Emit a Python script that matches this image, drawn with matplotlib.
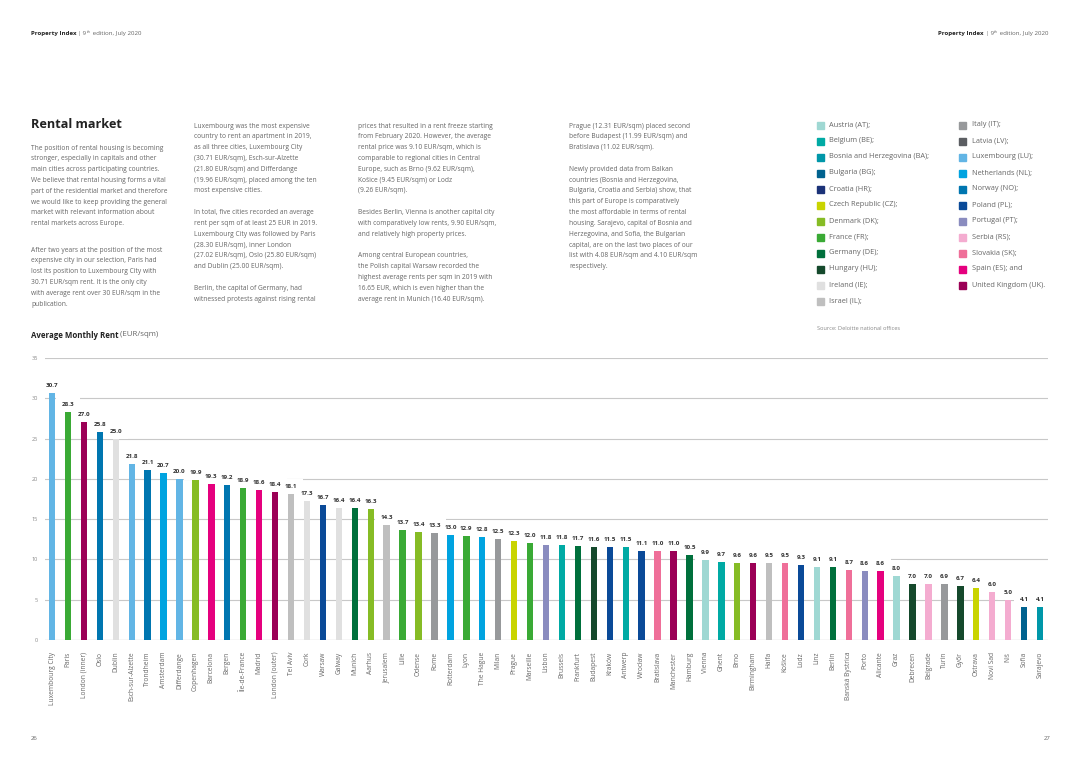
import matplotlib
matplotlib.use("Agg")
import matplotlib.pyplot as plt
import numpy as np

plt.rcParams['font.family'] = ['Open Sans', 'DejaVu Sans']

# average monthly rent per city, EUR/sqm
cities = ['Luxembourg City', 'Paris', 'London (inner)', 'Oslo', 'Dublin', 'Esch-sur-Alzette',
          'Trondheim', 'Amsterdam', 'Differdange', 'Copenhagen', 'Barcelona', 'Bergen',
          'Île-de-France', 'Madrid', 'London (outer)', 'Tel Aviv', 'Cork', 'Warsaw', 'Galway',
          'Munich', 'Aarhus', 'Jerusalem', 'Lille', 'Odense', 'Rome', 'Rotterdam', 'Lyon',
          'The Hague', 'Milan', 'Prague', 'Marseille', 'Lisbon', 'Brussels', 'Frankfurt',
          'Budapest', 'Kraków', 'Antwerp', 'Wrocław', 'Bratislava', 'Manchester', 'Hamburg',
          'Vienna', 'Ghent', 'Brno', 'Birmingham', 'Haifa', 'Košice', 'Lodz', 'Linz', 'Berlin',
          'Banská Bystrica', 'Porto', 'Alicante', 'Graz', 'Debrecen', 'Belgrade', 'Turin',
          'Győr', 'Ostrava', 'Novi Sad', 'Niš', 'Sofia', 'Sarajevo']
rent = [30.7, 28.3, 27.0, 25.8, 25.0, 21.8, 21.1, 20.7, 20.0, 19.9, 19.3, 19.2, 18.9, 18.6,
        18.4, 18.1, 17.3, 16.7, 16.4, 16.4, 16.3, 14.3, 13.7, 13.4, 13.3, 13.0, 12.9, 12.8,
        12.5, 12.3, 12.0, 11.8, 11.8, 11.7, 11.6, 11.5, 11.5, 11.1, 11.0, 11.0, 10.5, 9.9,
        9.7, 9.6, 9.6, 9.5, 9.5, 9.3, 9.1, 9.1, 8.7, 8.6, 8.6, 8.0, 7.0, 7.0, 6.9, 6.7, 6.4,
        6.0, 5.0, 4.1, 4.1]
# colour key of each bar (as drawn in the source)
codes = ['LU', 'FR', 'UK', 'NO', 'IE', 'LU', 'NO', 'NL', 'LU', 'DK', 'ES', 'NO', 'FR', 'ES',
         'UK', 'IL', 'IE', 'PL', 'IE', 'DE', 'DK', 'IL', 'FR', 'DK', 'IT', 'NL', 'FR', 'NL',
         'IT', 'CZ', 'FR', 'PT', 'BE', 'DE', 'HU', 'PL', 'BE', 'PL', 'SK', 'UK', 'DE', 'AT',
         'BE', 'DK', 'UK', 'IL', 'SK', 'PL', 'AT', 'DE', 'SK', 'PT', 'ES', 'AT', 'HU', 'RS',
         'IT', 'HU', 'CZ', 'RS', 'RS', 'BG', 'BA']

colors = {'AT': '#9fd8d3', 'BE': '#00aaa4', 'BA': '#0097a9', 'BG': '#00628f', 'HR': '#1b3278',
          'CZ': '#c9d400', 'DK': '#86bc25', 'FR': '#3aaa35', 'DE': '#00703c', 'HU': '#15492c',
          'IE': '#e0e0e0', 'IL': '#bfbfbf', 'IT': '#97999b', 'LV': '#5b5e62', 'LU': '#62b5e5',
          'NL': '#00a3e0', 'NO': '#0076b0', 'PL': '#0a4a98', 'PT': '#8a8cbf', 'RS': '#f4acd0',
          'SK': '#ef6f99', 'ES': '#e5007e', 'UK': '#9b0056'}

legend_left = [('AT', 'Austria (AT);'), ('BE', 'Belgium (BE);'), ('BA', 'Bosnia and Herzegovina (BA);'),
               ('BG', 'Bulgaria (BG);'), ('HR', 'Croatia (HR);'), ('CZ', 'Czech Republic (CZ);'),
               ('DK', 'Denmark (DK);'), ('FR', 'France (FR);'), ('DE', 'Germany (DE);'),
               ('HU', 'Hungary (HU);'), ('IE', 'Ireland (IE);'), ('IL', 'Israel (IL);')]
legend_right = [('IT', 'Italy (IT);'), ('LV', 'Latvia (LV);'), ('LU', 'Luxembourg (LU);'),
                ('NL', 'Netherlands (NL);'), ('NO', 'Norway (NO);'), ('PL', 'Poland (PL);'),
                ('PT', 'Portugal (PT);'), ('RS', 'Serbia (RS);'), ('SK', 'Slovakia (SK);'),
                ('ES', 'Spain (ES); and'), ('UK', 'United Kingdom (UK).')]

col1a = ['The position of rental housing is becoming',
         'stronger, especially in capitals and other',
         'main cities across participating countries.',
         'We believe that rental housing forms a vital',
         'part of the residential market and therefore',
         'we would like to keep providing the general',
         'market with relevant information about',
         'rental markets across Europe.']
col1b = ['After two years at the position of the most',
         'expensive city in our selection, Paris had',
         'lost its position to Luxembourg City with',
         '30.71 EUR/sqm rent. It is the only city',
         'with average rent over 30 EUR/sqm in the',
         'publication.']
col2 = ['Luxembourg was the most expensive',
        'country to rent an apartment in 2019,',
        'as all three cities, Luxembourg City',
        '(30.71 EUR/sqm), Esch-sur-Alzette',
        '(21.80 EUR/sqm) and Differdange',
        '(19.96 EUR/sqm), placed among the ten',
        'most expensive cities.',
        '',
        'In total, five cities recorded an average',
        'rent per sqm of at least 25 EUR in 2019.',
        'Luxembourg City was followed by Paris',
        '(28.30 EUR/sqm), inner London',
        '(27.02 EUR/sqm), Oslo (25.80 EUR/sqm)',
        'and Dublin (25.00 EUR/sqm).',
        '',
        'Berlin, the capital of Germany, had',
        'witnessed protests against rising rental']
col3 = ['prices that resulted in a rent freeze starting',
        'from February 2020. However, the average',
        'rental price was 9.10 EUR/sqm, which is',
        'comparable to regional cities in Central',
        'Europe, such as Brno (9.62 EUR/sqm),',
        'Košice (9.45 EUR/sqm) or Lodz',
        '(9.26 EUR/sqm).',
        '',
        'Besides Berlin, Vienna is another capital city',
        'with comparatively low rents, 9.90 EUR/sqm,',
        'and relatively high property prices.',
        '',
        'Among central European countries,',
        'the Polish capital Warsaw recorded the',
        'highest average rents per sqm in 2019 with',
        '16.65 EUR, which is even higher than the',
        'average rent in Munich (16.40 EUR/sqm).']
col4 = ['Prague (12.31 EUR/sqm) placed second',
        'before Budapest (11.99 EUR/sqm) and',
        'Bratislava (11.02 EUR/sqm).',
        '',
        'Newly provided data from Balkan',
        'countries (Bosnia and Herzegovina,',
        'Bulgaria, Croatia and Serbia) show, that',
        'this part of Europe is comparatively',
        'the most affordable in terms of rental',
        'housing. Sarajevo, capital of Bosnia and',
        'Herzegovina, and Sofia, the Bulgarian',
        'capital, are on the last two places of our',
        'list with 4.08 EUR/sqm and 4.10 EUR/sqm',
        'respectively.']

W, H = 1080, 764
fig = plt.figure(figsize=(W / 100, H / 100), dpi=100)
fig.patch.set_facecolor('white')


def fx(px):
    return px / W


def fy(py):
    return 1 - py / H


grey = '#666666'
dark = '#222222'
body_size = 4.8


def rich(x, y, parts):
    # draw text pieces one after another on the same line
    r = fig.canvas.get_renderer()
    x = fx(x)
    for s, kw in parts:
        t = fig.text(x, fy(y) + kw.pop('dy', 0), s, va='center', **kw)
        bb = t.get_window_extent(renderer=r)
        x = bb.x1 / fig.bbox.width


def header(x):
    rich(x, 34, [('Property Index', dict(fontsize=4.45, weight='bold', color=dark)),
                 (' | 9', dict(fontsize=4.45, color=grey)),
                 ('th', dict(fontsize=2.9, color=grey, dy=0.003)),
                 (' edition, July 2020', dict(fontsize=4.45, color=grey))])


header(31)
header(938)
fig.text(fx(31), fy(738), '26', fontsize=4.3, color=grey, va='center')
fig.text(fx(1050), fy(738), '27', fontsize=4.3, color=grey, va='center', ha='right')

fig.text(fx(31), fy(125), 'Rental market', fontsize=9.1, weight='bold', color=dark, va='center')


def block(x, y0, lines, step=10.83):
    for i, s in enumerate(lines):
        if s:
            fig.text(fx(x), fy(y0 + i * step), s, fontsize=body_size, color=grey, va='center')


block(31, 148, col1a)
block(31, 250, col1b)
block(194, 126, col2)
block(358, 126, col3)
block(569, 126, col4)

# legend of countries
for col, (sx, tx) in zip([legend_left, legend_right], [(817, 829), (959, 972)]):
    for i, (code, label) in enumerate(col):
        y = 125 + 16 * i
        fig.patches.append(plt.Rectangle((fx(sx), fy(y + 3.5)), 7 / W, 7 / H,
                                         transform=fig.transFigure, color=colors[code]))
        fig.text(fx(tx), fy(y), label, fontsize=5.3, color=grey, va='center')
fig.text(fx(817), fy(328), 'Source: Deloitte national offices', fontsize=4.1, color='#888888',
         va='center')

rich(31, 335, [('Average Monthly Rent', dict(fontsize=5.7, weight='bold', color=dark)),
               (' (EUR/sqm)', dict(fontsize=5.7, color=grey))])

# bar chart
ax = fig.add_axes([fx(45), fy(640), 1003 / W, 282 / H])
x = np.arange(len(cities))
ax.bar(x, rent, width=0.4, color=[colors[c] for c in codes], zorder=3)
for xi, v in zip(x, rent):
    # white patch that breaks the gridlines behind each label
    ax.annotate(f'{v:.1f}', (xi, v), xytext=(0, 7.5), textcoords='offset pixels',
                ha='center', va='center', fontsize=4.5, weight='bold', color='white',
                zorder=2, bbox=dict(boxstyle='square,pad=0.9', fc='white', ec='none'))
    ax.annotate(f'{v:.1f}', (xi, v), xytext=(0, 7.5), textcoords='offset pixels',
                ha='center', va='center', fontsize=4.5, weight='bold', color='#333333',
                zorder=4)

ax.set_xlim(-0.44, len(cities) - 0.5)
ax.set_ylim(0, 35)
ax.set_yticks(range(0, 36, 5))
ax.yaxis.grid(True, color='#c8c8c8', linewidth=0.8, zorder=0)
ax.set_axisbelow(True)
for s in ax.spines.values():
    s.set_visible(False)
ax.axhline(0, color='#aaaaaa', linewidth=0.8, zorder=1)
ax.tick_params(axis='y', length=0, pad=5, labelsize=4, labelcolor='#888888')
ax.set_xticks(x)
ax.set_xticklabels(cities, rotation=90, fontsize=4.8, color=grey, va='top', ha='center')
ax.tick_params(axis='x', length=0, pad=8.5)

fig.savefig('out.png', dpi=100, facecolor='white')
